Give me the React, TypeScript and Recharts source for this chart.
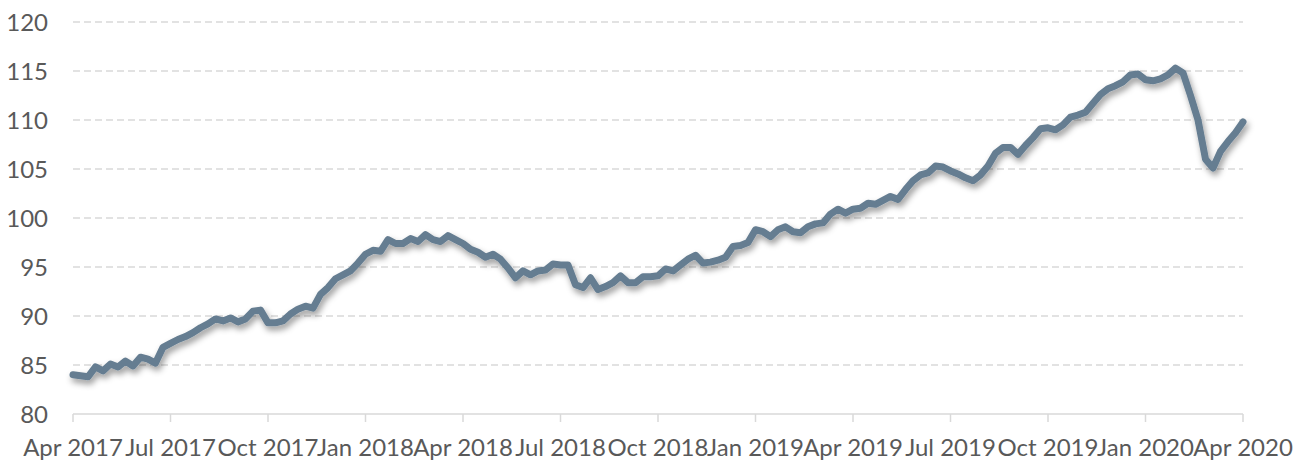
import { CartesianGrid, Line, LineChart, XAxis, YAxis } from 'recharts'

// quarter labels on the x axis, one every 13 weeks
const quarterLabels = [
  'Apr 2017', 'Jul 2017', 'Oct 2017', 'Jan 2018', 'Apr 2018', 'Jul 2018', 'Oct 2018',
  'Jan 2019', 'Apr 2019', 'Jul 2019', 'Oct 2019', 'Jan 2020', 'Apr 2020',
]
const weeksPerQuarter = 13

const yTicks = [80, 85, 90, 95, 100, 105, 110, 115, 120]

// weekly index values, Apr 2017 -> Apr 2020
const indexValues = [
  84.0, 83.9, 83.8, 84.8, 84.4, 85.1, 84.8, 85.4, 84.9, 85.8, 85.6, 85.2, 86.8,
  87.2, 87.6, 87.9, 88.3, 88.8, 89.2, 89.7, 89.5, 89.8, 89.4, 89.7, 90.5, 90.6,
  89.3, 89.3, 89.5, 90.2, 90.7, 91.0, 90.8, 92.2, 92.9, 93.8, 94.2, 94.6, 95.4,
  96.3, 96.7, 96.6, 97.8, 97.4, 97.4, 97.9, 97.6, 98.3, 97.8, 97.6, 98.2, 97.8,
  97.4, 96.8, 96.5, 96.0, 96.3, 95.8, 94.9, 93.9, 94.6, 94.2, 94.6, 94.7, 95.3,
  95.2, 95.2, 93.2, 92.9, 93.9, 92.7, 93.0, 93.4, 94.1, 93.4, 93.4, 94.0, 94.0,
  94.1, 94.8, 94.6, 95.2, 95.8, 96.2, 95.4, 95.5, 95.7, 96.0, 97.1, 97.2, 97.5,
  98.8, 98.6, 98.1, 98.8, 99.1, 98.6, 98.5, 99.1, 99.4, 99.5, 100.4, 100.9, 100.5,
  100.9, 101.0, 101.5, 101.4, 101.8, 102.2, 101.9, 102.9, 103.8, 104.4, 104.6, 105.3,
  105.2, 104.8, 104.5, 104.1, 103.8, 104.4, 105.3, 106.6, 107.2, 107.2, 106.5, 107.4,
  108.2, 109.1, 109.2, 109.0, 109.5, 110.3, 110.5, 110.8, 111.7, 112.6, 113.2, 113.5,
  113.9, 114.6, 114.7, 114.1, 114.0, 114.2, 114.6, 115.3, 114.8, 112.5, 110.0, 106.0,
  105.1, 106.8, 107.8, 108.7, 109.8,
]

const data = indexValues.map((value, week) => ({ week, value }))
const xTicks = quarterLabels.map((_, i) => i * weeksPerQuarter)

const labelStyle = { fontFamily: 'Lato, sans-serif', fontSize: 24, fill: '#595959' }

export default function App() {
  return (
    <div style={{ position: 'absolute', left: 0, top: 0 }}>
      <LineChart width={1306} height={463} data={data} margin={{ top: 22, right: 63, bottom: 0, left: 0 }}>
        <defs>
          <filter id="lineShadow" x="-5%" y="-20%" width="110%" height="140%">
            <feDropShadow dx="2" dy="4" stdDeviation="3" floodColor="#000" floodOpacity="0.4" />
          </filter>
        </defs>
        <CartesianGrid stroke="#d9d9d9" strokeDasharray="7 4" strokeWidth={1.3} vertical={false} horizontalValues={yTicks.slice(1)} />
        <XAxis
          dataKey="week"
          type="number"
          domain={[0, 156]}
          ticks={xTicks}
          interval={0}
          tickFormatter={(v: number) => quarterLabels[Math.round(v / weeksPerQuarter)]}
          height={49}
          tickSize={8}
          tickMargin={17}
          stroke="#d9d9d9"
          strokeWidth={1.5}
          tick={labelStyle}
        />
        <YAxis
          domain={[80, 120]}
          ticks={yTicks}
          interval={0}
          width={73}
          axisLine={false}
          tickLine={false}
          tickMargin={19}
          tick={labelStyle}
        />
        <Line
          type="linear"
          dataKey="value"
          stroke="#657d91"
          strokeWidth={7}
          strokeLinejoin="round"
          strokeLinecap="round"
          dot={false}
          filter="url(#lineShadow)"
          isAnimationActive={false}
        />
      </LineChart>
    </div>
  )
}
